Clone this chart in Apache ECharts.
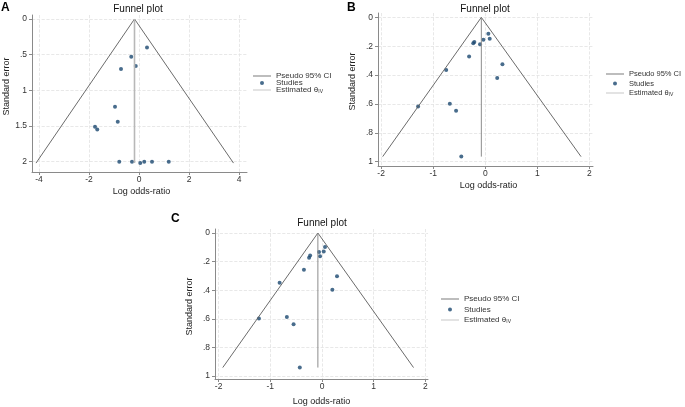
<!DOCTYPE html>
<html>
<head>
<meta charset="utf-8">
<script src="https://cdn.jsdelivr.net/npm/echarts@6/dist/echarts.min.js"></script>
<style>
  html, body { margin: 0; padding: 0; background: #fff; }
  #chart { width: 685px; height: 407px; }
</style>
</head>
<body>
<div id="chart"></div>
<script>
// Panel A: studies (log odds-ratio, standard error)
const aLor = [0.32, -0.31, -0.13, -0.72, -0.96, -0.85, -1.76, -1.67, -0.79, -0.28, 0.05, 0.21, 0.52, 1.19];
const aSe = [0.40, 0.53, 0.66, 0.70, 1.23, 1.44, 1.51, 1.55, 2.00, 2.00, 2.02, 2.00, 2.00, 2.00];
const aFunnel = [[-4.12, 2.02], [-0.18, 0], [3.78, 2.02]];
const aTheta = [[-0.18, 0], [-0.18, 2.02]];
const aXTicks = [-4, -2, 0, 2, 4];
const aYTicks = [0, 0.5, 1, 1.5, 2];

// Panel B
const bLor = [0.06, 0.086, -0.036, -0.10, -0.21, -0.23, -0.31, 0.33, -0.75, 0.23, -1.29, -0.68, -0.56, -0.46];
const bSe = [0.113, 0.148, 0.155, 0.187, 0.171, 0.18, 0.272, 0.325, 0.365, 0.42, 0.617, 0.598, 0.647, 0.965];
const bFunnel = [[-1.97, 0.965], [-0.075, 0], [1.84, 0.965]];
const bTheta = [[-0.075, 0], [-0.075, 0.965]];
const bXTicks = [-2, -1, 0, 1, 2];
const bYTicks = [0, 0.2, 0.4, 0.6, 0.8, 1];

// Panel C
const cLor = [0.058, -0.058, 0.033, -0.038, -0.23, -0.25, -0.35, 0.29, -0.82, 0.20, -1.22, -0.68, -0.55, -0.43];
const cSe = [0.098, 0.133, 0.13, 0.163, 0.158, 0.172, 0.256, 0.302, 0.347, 0.396, 0.598, 0.586, 0.637, 0.94];
const cFunnel = [[-1.92, 0.94], [-0.08, 0], [1.77, 0.94]];
const cTheta = [[-0.08, 0], [-0.08, 0.94]];
const cXTicks = [-2, -1, 0, 1, 2];
const cYTicks = [0, 0.2, 0.4, 0.6, 0.8, 1];

const FONT = "Liberation Sans";
const NAVY = "#1a476f";
const AXIS = "#8a8a8a";

const stataNum = (v) => {
  const s = String(Math.round(v * 1000) / 1000);
  return s.replace(/^0\./, ".").replace(/^-0\./, "-.");
};

const panels = [
  { lor: aLor, se: aSe, funnel: aFunnel, theta: aTheta, xt: aXTicks, yt: aYTicks,
    grid: { left: 32, top: 15, width: 215, height: 157 },
    x: [-4.28, 4.32], y: [-0.056, 2.145], thetaStyle: { color: "#b8b8b8", width: 1.6 },
    yGap: 21, yPad: [0, 0, 0, 14], xGap: 15, xPad: [0, 0, 0, 4] },
  { lor: bLor, se: bSe, funnel: bFunnel, theta: bTheta, xt: bXTicks, yt: bYTicks,
    grid: { left: 378, top: 13, width: 215, height: 153 },
    x: [-2.06, 2.07], y: [-0.03, 1.03], thetaStyle: { color: "#8c8c8c", width: 1 },
    yGap: 21, yPad: [0, 0, 0, 16], xGap: 15, xPad: [0, 0, 0, 6] },
  { lor: cLor, se: cSe, funnel: cFunnel, theta: cTheta, xt: cXTicks, yt: cYTicks,
    grid: { left: 215, top: 229, width: 213, height: 150 },
    x: [-2.07, 2.05], y: [-0.028, 1.02], thetaStyle: { color: "#8c8c8c", width: 1 },
    yGap: 21, yPad: [0, 5, 0, 0], xGap: 18, xPad: [0, 0, 0, 0] },
];

const grids = [], xAxes = [], yAxes = [], series = [];
panels.forEach((p, i) => {
  grids.push(p.grid);
  xAxes.push({
    type: "value", gridIndex: i, min: p.x[0], max: p.x[1],
    name: "Log odds-ratio", nameLocation: "middle", nameGap: p.xGap,
    nameTextStyle: { fontFamily: FONT, fontSize: 9, color: "#222", padding: p.xPad },
    axisLine: { show: true, onZero: false, lineStyle: { color: AXIS, width: 1 } },
    axisTick: { show: true, length: 3, customValues: p.xt, lineStyle: { color: AXIS } },
    axisLabel: { customValues: p.xt, margin: 3, fontFamily: FONT, fontSize: 8.5, color: "#333", formatter: stataNum },
    splitLine: { show: true, lineStyle: { color: "#e2e2e2", type: "dashed", width: 0.8 } },
  });
  yAxes.push({
    type: "value", gridIndex: i, inverse: true, min: p.y[0], max: p.y[1],
    name: "Standard error", nameLocation: "middle", nameGap: p.yGap, nameRotate: 90,
    nameTextStyle: { fontFamily: FONT, fontSize: 9, color: "#222", padding: p.yPad },
    axisLine: { show: true, onZero: false, lineStyle: { color: AXIS, width: 1 } },
    axisTick: { show: true, length: 3, customValues: p.yt, lineStyle: { color: AXIS } },
    axisLabel: { customValues: p.yt, margin: 5, fontFamily: FONT, fontSize: 8.5, color: "#333", formatter: stataNum },
    splitLine: { show: true, lineStyle: { color: "#e2e2e2", type: "dashed", width: 0.8 } },
  });
  series.push({
    name: "Pseudo 95% CI", type: "line", xAxisIndex: i, yAxisIndex: i,
    data: p.funnel, symbol: "none", silent: true,
    lineStyle: { color: "#5a5a5a", width: 0.9 }, itemStyle: { color: "#5a5a5a" },
  });
  series.push({
    name: "Studies", type: "scatter", xAxisIndex: i, yAxisIndex: i,
    data: p.lor.map((v, k) => [v, p.se[k]]), symbol: "circle", symbolSize: 4,
    itemStyle: { color: NAVY },
  });
  series.push({
    name: "Estimated θIV", type: "line", xAxisIndex: i, yAxisIndex: i,
    data: p.theta, symbol: "none", silent: true,
    lineStyle: p.thetaStyle, itemStyle: { color: p.thetaStyle.color },
  });
});

// thin horizontal stroke in an 18x4 box, used as the legend key of the line series
const LINE_ICON = "path://M0,0M18,4M0,1.6H18V2.4H0Z";
const makeLegend = (left, top, gap, size) => ({
  orient: "vertical", selectedMode: false, itemWidth: 18, itemHeight: 4, padding: 0,
  left: left, top: top, itemGap: gap,
  data: [
    { name: "Pseudo 95% CI", icon: LINE_ICON },
    { name: "Studies", icon: "circle" },
    { name: "Estimated θIV", icon: LINE_ICON },
  ],
  formatter: (n) => (n === "Estimated θIV" ? "Estimated θ{s|IV}" : n),
  textStyle: {
    fontFamily: FONT, fontSize: size, color: "#333",
    rich: { s: { fontFamily: FONT, fontSize: 5, color: "#333", padding: [4, 0, 0, 0] } },
  },
});

const option = {
  animation: false,
  backgroundColor: "#fff",
  title: [
    { text: "A", left: 1, top: 2, padding: 0, textStyle: { fontFamily: FONT, fontSize: 12, fontWeight: "bold", color: "#000" } },
    { text: "B", left: 347, top: 2, padding: 0, textStyle: { fontFamily: FONT, fontSize: 12, fontWeight: "bold", color: "#000" } },
    { text: "C", left: 171, top: 213, padding: 0, textStyle: { fontFamily: FONT, fontSize: 12, fontWeight: "bold", color: "#000" } },
    { text: "Funnel plot", left: 138, top: 4, textAlign: "center", padding: 0, textStyle: { fontFamily: FONT, fontSize: 10, fontWeight: "normal", color: "#111" } },
    { text: "Funnel plot", left: 485, top: 4, textAlign: "center", padding: 0, textStyle: { fontFamily: FONT, fontSize: 10, fontWeight: "normal", color: "#111" } },
    { text: "Funnel plot", left: 322, top: 218, textAlign: "center", padding: 0, textStyle: { fontFamily: FONT, fontSize: 10, fontWeight: "normal", color: "#111" } },
  ],
  legend: [
    makeLegend(253, 72, -1, 8),
    makeLegend(606, 70, 1.5, 7.5),
    makeLegend(441, 295, 2.5, 8),
  ],
  grid: grids,
  xAxis: xAxes,
  yAxis: yAxes,
  series: series,
};

const chart = echarts.init(document.getElementById("chart"));
chart.setOption(option);
</script>
</body>
</html>
